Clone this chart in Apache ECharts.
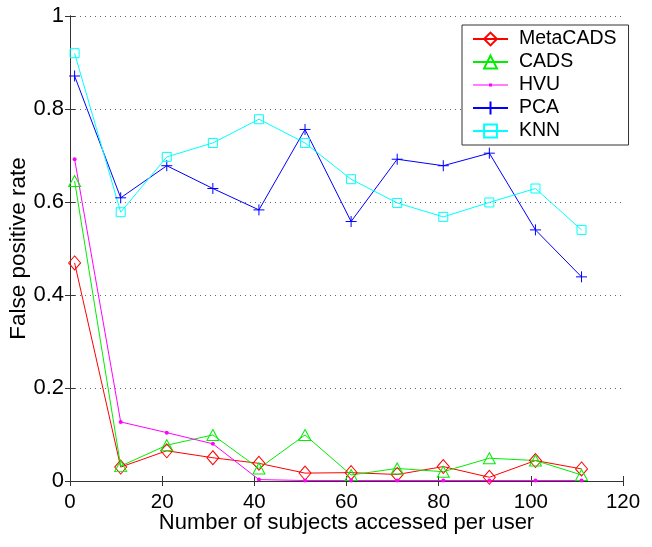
<!DOCTYPE html>
<html><head><meta charset="utf-8">
<script src="https://cdn.jsdelivr.net/npm/echarts@6/dist/echarts.min.js"></script>
<style>html,body{margin:0;padding:0;background:#fff}#c{width:652px;height:547px}</style>
</head><body><div id="c"></div>
<script>
const xValues = [1, 11, 21, 31, 41, 51, 61, 71, 81, 91, 101, 111];
const metaCADS = [0.469, 0.030, 0.065, 0.050, 0.038, 0.017, 0.018, 0.014, 0.031, 0.008, 0.044, 0.026];
const cads     = [0.645, 0.032, 0.077, 0.099, 0.027, 0.099, 0.013, 0.027, 0.020, 0.049, 0.044, 0.013];
const hvu      = [0.692, 0.127, 0.104, 0.080, 0.003, 0.001, 0.001, 0.001, 0.001, 0.001, 0.001, 0.001];
const pca      = [0.871, 0.609, 0.678, 0.629, 0.583, 0.756, 0.558, 0.692, 0.678, 0.705, 0.540, 0.439];
const knn      = [0.920, 0.578, 0.697, 0.727, 0.778, 0.727, 0.649, 0.598, 0.568, 0.599, 0.629, 0.540];
const xTicks = [0, 20, 40, 60, 80, 100, 120];
const yTicks = [0, 0.2, 0.4, 0.6, 0.8, 1];

const FONT = 'Liberation Sans, Arial, Helvetica, sans-serif';
const pair = arr => xValues.map((x, i) => [x, arr[i]]);
const plusPath = 'path://M5,0L5,10M0,5L10,5';
const hvuLegendIcon = 'path://M0,7.5L35,7.5L35,8.5L0,8.5Z M16,6.5L19,6.5L19,9.5L16,9.5Z';

function mk(name, data, color, symbol, size, filled) {
  return {
    name, type: 'line', data: pair(data), symbol, symbolSize: size,
    lineStyle: { color, width: 1 },
    itemStyle: filled ? { color, borderColor: color, borderWidth: 0 }
                      : { color: 'rgba(0,0,0,0)', borderColor: color, borderWidth: 1 },
    emphasis: { disabled: true },
    animation: false
  };
}

const chart = echarts.init(document.getElementById('c'), null, { renderer: 'canvas' });
const axisLine = { show: true, lineStyle: { color: '#333', width: 1 } };
const tick = { inside: true, length: 5, lineStyle: { color: '#333' } };
chart.setOption({
  animation: false,
  backgroundColor: '#fff',
  grid: { left: 70, right: 29, top: 16, bottom: 66, containLabel: false, outerBoundsMode: 'none' },
  legend: {
    orient: 'vertical', left: 462, top: 25,
    backgroundColor: '#fff', borderColor: '#333', borderWidth: 1,
    padding: [4, 12, 4, 10], itemGap: 3, itemWidth: 35, itemHeight: 16,
    textStyle: { fontFamily: FONT, fontSize: 19.5, color: '#000', padding: [0, 0, 0, 6] },
    data: [
      { name: 'MetaCADS' }, { name: 'CADS' },
      { name: 'HVU', icon: hvuLegendIcon, itemStyle: { color: '#ff00ff', borderWidth: 0 } },
      { name: 'PCA' }, { name: 'KNN' }
    ]
  },
  xAxis: [{
    type: 'value', min: 0, max: 120, interval: 20, position: 'bottom',
    name: 'Number of subjects accessed per user', nameLocation: 'middle', nameGap: 31,
    nameMoveOverlap: false,
    nameTextStyle: { fontFamily: FONT, fontSize: 22, color: '#000' },
    axisLine, axisTick: tick,
    axisLabel: { fontFamily: FONT, fontSize: 20.5, color: '#000', margin: 11, formatter: v => xTicks.includes(v) ? String(v) : '' },
    splitLine: { show: false }
  }, {
    type: 'value', min: 0, max: 120, interval: 20, position: 'top',
    axisLine, axisTick: tick, axisLabel: { show: false }, splitLine: { show: false }
  }],
  yAxis: [{
    type: 'value', min: 0, max: 1, interval: 0.2, position: 'left',
    name: 'False positive rate', nameLocation: 'middle', nameGap: 40,
    nameMoveOverlap: false,
    nameTextStyle: { fontFamily: FONT, fontSize: 22.5, color: '#000' },
    axisLine, axisTick: tick,
    axisLabel: { fontFamily: FONT, fontSize: 22, color: '#000', margin: 6, formatter: v => { const t = yTicks.find(y => Math.abs(y - v) < 1e-9); return t === undefined ? '' : String(t); } },
    splitLine: { show: true, lineStyle: { type: [1, 4], color: '#666', width: 1 } }
  }, {
    type: 'value', min: 0, max: 1, interval: 0.2, position: 'right',
    axisLine, axisTick: tick, axisLabel: { show: false }, splitLine: { show: false }
  }],
  series: [
    mk('MetaCADS', metaCADS, '#ff0000', 'diamond', [12, 14], false),
    mk('CADS', cads, '#00ee00', 'triangle', [12, 11], false),
    mk('HVU', hvu, '#ff00ff', 'circle', 4, true),
    mk('PCA', pca, '#0000ff', plusPath, 11, false),
    mk('KNN', knn, '#00ffff', 'rect', 9, false)
  ]
});
</script></body></html>
